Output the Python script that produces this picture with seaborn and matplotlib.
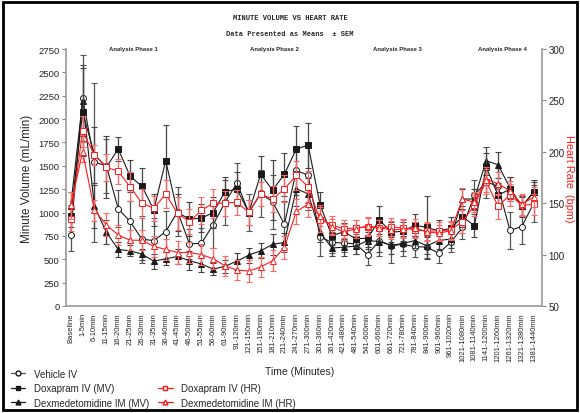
import numpy as np
import pandas as pd
import matplotlib
matplotlib.use("Agg")
import matplotlib.pyplot as plt
import seaborn as sns
from matplotlib.lines import Line2D
from matplotlib.patches import Rectangle

categories = ["Baseline", "1-5min", "6-10min", "11-15min", "16-20min", "21-25min", "26-30min",
              "31-35min", "36-40min", "41-45min", "46-50min", "51-55min", "56-60min", "61-90min",
              "91-120min", "121-150min", "151-180min", "181-210min", "211-240min", "241-270min",
              "271-300min", "301-360min", "361-420min", "421-480min", "481-540min", "541-600min",
              "601-660min", "661-720min", "721-780min", "781-840min", "841-900min", "901-960min",
              "961-1020min", "1021-1080min", "1081-1140min", "1141-1200min", "1201-1260min",
              "1261-1320min", "1321-1380min", "1381-1440min"]

vehicle_mv = [760, 2230, 1540, 1500, 1040, 905, 715, 700, 795, 1010, 665, 670, 870, 1110, 1315, 1000,
              1205, 1115, 875, 1450, 1400, 740, 680, 675, 665, 550, 700, 645, 660, 635, 630, 565,
              680, 840, 1185, 1330, 1280, 810, 850, 1100]
vehicle_mv_err = [170, 460, 850, 290, 200, 220, 250, 240, 220, 260, 160, 160, 250, 240, 220, 200,
                  250, 290, 250, 260, 300, 200, 110, 100, 110, 110, 160, 180, 130, 110, 120, 110,
                  100, 120, 160, 170, 200, 200, 190, 200]

doxa_mv = [960, 2075, 1620, 1485, 1680, 1390, 1280, 1030, 1555, 1000, 930, 940, 1000, 1225, 1250, 1000,
           1410, 1240, 1410, 1680, 1720, 1085, 750, 795, 720, 725, 920, 790, 800, 865, 840, 805,
           830, 955, 860, 1485, 1185, 1250, 1065, 1220]
doxa_mv_err = [120, 470, 300, 330, 130, 170, 200, 170, 380, 200, 180, 150, 170, 160, 180, 130,
               200, 320, 230, 250, 240, 130, 100, 90, 90, 90, 150, 110, 100, 120, 340, 110,
               120, 110, 120, 150, 130, 130, 110, 130]

dex_mv = [1075, 2195, 1065, 790, 605, 590, 555, 480, 505, 530, 485, 450, 395, 425, 480, 545,
          590, 660, 680, 1255, 1200, 790, 620, 630, 640, 700, 690, 650, 670, 700, 645, 700,
          717, 1145, 1145, 1555, 1510, 1265, 1065, 1220]
dex_mv_err = [150, 380, 230, 130, 80, 60, 60, 80, 70, 80, 100, 90, 60, 70, 90, 80,
              80, 110, 100, 190, 170, 110, 90, 90, 80, 90, 110, 90, 80, 80, 90, 90,
              100, 110, 110, 150, 140, 120, 100, 110]

doxa_hr = [135, 220, 197, 185, 181, 166, 150, 145, 159, 140, 132, 143, 150, 150, 151, 141,
           159, 154, 164, 177, 166, 134, 129, 125, 126, 127, 126, 127, 126, 124, 123, 123,
           124, 132, 148, 171, 147, 158, 148, 149]
doxa_hr_err = [12, 15, 10, 13, 12, 14, 14, 12, 14, 16, 12, 13, 14, 12, 12, 12,
               12, 13, 13, 14, 15, 12, 9, 9, 8, 9, 8, 9, 9, 8, 9, 9,
               9, 11, 10, 12, 12, 11, 10, 10]

dex_hr = [148, 200, 143, 129, 119, 114, 114, 108, 105, 102, 102, 100, 96, 89, 85, 84,
          88, 94, 107, 142, 149, 138, 127, 122, 125, 128, 126, 124, 125, 126, 122, 121,
          123, 154, 151, 173, 169, 162, 149, 156]
dex_hr_err = [13, 10, 10, 11, 10, 10, 10, 10, 10, 11, 10, 10, 10, 10, 10, 11,
              10, 10, 11, 12, 12, 10, 8, 8, 9, 9, 8, 9, 9, 9, 9, 8,
              9, 11, 10, 12, 11, 10, 10, 10]

phase_labels = ["Analysis Phase 1", "Analysis Phase 2", "Analysis Phase 3", "Analysis Phase 4"]
phase_pos = [5.25, 17.2, 27.5, 36.4]

sns.set_theme(style="white")
plt.rcParams['font.family'] = ['Liberation Sans', 'DejaVu Sans']

fig = plt.figure(figsize=(5.8, 4.14), dpi=100)
ax = fig.add_axes([66 / 580, 1 - 307 / 414, (542 - 66) / 580, (307 - 50) / 414])
ax2 = ax.twinx()
x = np.arange(len(categories))

BLK = "#1a1a1a"
RED = "#ff1a1a"


def draw(a, y, e, marker, color, ecolor, mfc, ms, z):
    a.errorbar(x, y, yerr=e, fmt='none', ecolor=ecolor, elinewidth=0.9,
               capsize=2.2, capthick=0.8, zorder=z)
    df = pd.DataFrame({"x": x, "y": y})
    sns.lineplot(data=df, x="x", y="y", ax=a, color=color, marker=marker,
                 markersize=ms, markerfacecolor=mfc, markeredgecolor=color,
                 markeredgewidth=0.7, linewidth=0.8, zorder=z + 1)


draw(ax, vehicle_mv, vehicle_mv_err, 'o', BLK, "#555555", 'white', 4.3, 2)
draw(ax, dex_mv, dex_mv_err, '^', BLK, "#444444", BLK, 3.8, 3)
draw(ax, doxa_mv, doxa_mv_err, 's', BLK, "#444444", BLK, 3.8, 4)
draw(ax2, doxa_hr, doxa_hr_err, 's', RED, "#ff6666", 'white', 3.8, 2)
draw(ax2, dex_hr, dex_hr_err, '^', RED, "#ff6666", 'white', 3.8, 3)

ax.set_xlim(-0.4, 39.7)
ax.set_ylim(0, 2750)
ax.set_yticks(np.arange(0, 2751, 250))
ax2.set_ylim(50, 300)
ax2.set_yticks(np.arange(50, 301, 50))
ax.set_xticks(x)
ax.set_xticklabels(categories, rotation=90, fontsize=5.5)
ax.tick_params(axis='y', labelsize=6.8, length=3, width=0.8, color="#888888", direction='out', pad=1.5)
ax.tick_params(axis='x', length=3, width=0.8, color="#888888", direction='out', pad=1.5)
ax2.tick_params(axis='y', labelsize=7, length=3, width=0.8, color="#888888", direction='out', pad=1.5)
ax.set_xlabel("Time (Minutes)", fontsize=7.5, labelpad=3)
ax.set_ylabel("Minute Volume (mL/min)", fontsize=8.5, labelpad=4)
ax2.set_ylabel("Heart Rate  (bpm)", fontsize=7.8, color=RED, rotation=270, labelpad=4)
ax.xaxis.set_label_coords(0.49, -0.235)
ax2.yaxis.set_label_coords(1.067, 0.5)

for a in (ax, ax2):
    a.spines['top'].set_visible(False)
    for s in ('left', 'right', 'bottom'):
        a.spines[s].set_color("#999999")
        a.spines[s].set_linewidth(1.2)
ax.spines['right'].set_visible(False)
ax2.spines['left'].set_visible(False)
ax2.spines['bottom'].set_visible(False)
ax.grid(False)
ax2.grid(False)

for lbl, p in zip(phase_labels, phase_pos):
    ax.text(p, 2750, lbl, fontsize=4.3, fontweight='bold', ha='center', va='center')

fig.text(0.5, 1 - 18 / 414, "MINUTE VOLUME VS HEART RATE", family=['Liberation Mono', 'DejaVu Sans Mono'],
         fontsize=5, fontweight='bold', ha='center', va='center')
fig.text(0.5, 1 - 35 / 414, "Data Presented as Means  \u00b1 SEM", family=['Liberation Mono', 'DejaVu Sans Mono'],
         fontsize=5, fontweight='bold', ha='center', va='center')

handles = [
    Line2D([], [], color="#555555", marker='o', mfc='white', mec=BLK, ms=3.5, lw=0.9),
    Line2D([], [], color=BLK, marker='s', mfc=BLK, mec=BLK, ms=3.5, lw=0.9),
    Line2D([], [], color=BLK, marker='^', mfc=BLK, mec=BLK, ms=3.5, lw=0.9),
    Line2D([], [], color='none'),
    Line2D([], [], color=RED, marker='s', mfc='white', mec=RED, ms=3.5, lw=0.9),
    Line2D([], [], color=RED, marker='^', mfc='white', mec=RED, ms=3.5, lw=0.9),
]
labels = ["Vehicle IV", "Doxapram IV (MV)", "Dexmedetomidine IM (MV)", "",
          "Doxapram IV (HR)", "Dexmedetomidine IM (HR)"]
fig.legend(handles, labels, ncol=2, loc='upper left', bbox_to_anchor=(4 / 580, 1 - 363 / 414),
           frameon=False, fontsize=7, handlelength=1.5, handletextpad=0.9,
           columnspacing=0.9, labelspacing=0.45, borderpad=0.2)

fig.patches.append(Rectangle((3 / 580, 3 / 414), 574 / 580, 408 / 414, transform=fig.transFigure,
                             fill=False, edgecolor='black', linewidth=2))

fig.savefig("out.png", dpi=100)
